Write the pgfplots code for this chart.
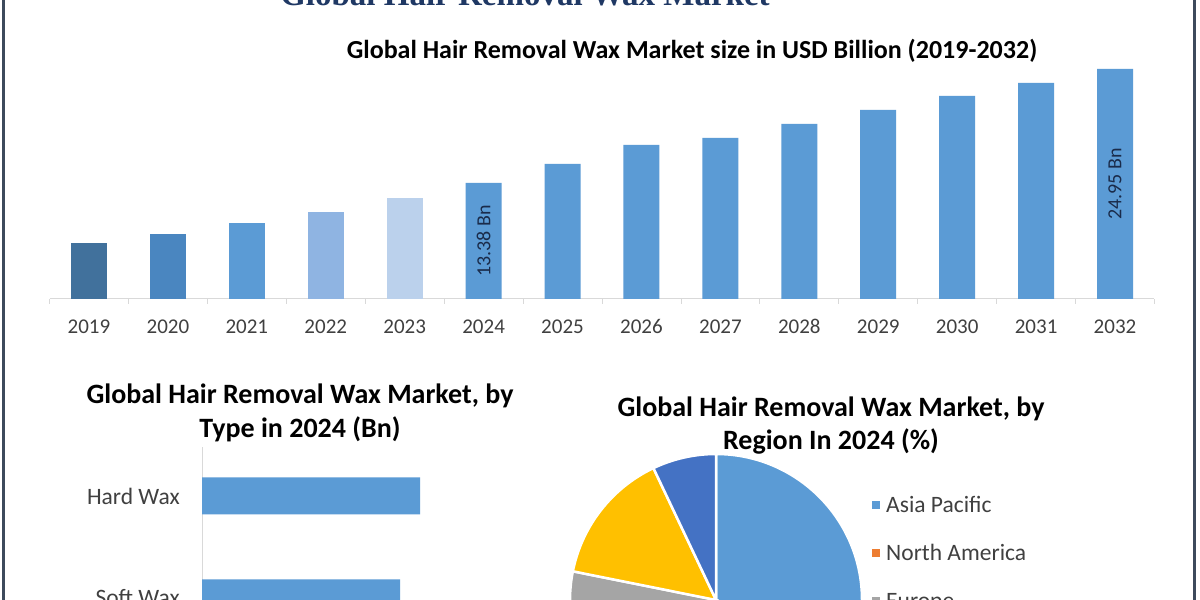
\documentclass[border=0pt]{standalone}
\usepackage{fontspec}
\setmainfont{Carlito}
\newfontfamily\titleserif{Liberation Serif}
\usepackage{pgfplots}
\pgfplotsset{compat=1.18}

\definecolor{cA}{HTML}{41719C}
\definecolor{cB}{HTML}{4A86C0}
\definecolor{cC}{HTML}{5B9BD5}
\definecolor{cD}{HTML}{8FB4E2}
\definecolor{cE}{HTML}{BBD1EC}
\definecolor{axgray}{HTML}{D9D9D9}
\definecolor{tickgray}{HTML}{404040}
\definecolor{frame}{HTML}{3D4A5C}
\definecolor{navy}{HTML}{1F3864}
\definecolor{labnavy}{HTML}{1A2B4A}
\definecolor{pAP}{HTML}{5B9BD5}
\definecolor{pNA}{HTML}{ED7D31}
\definecolor{pEU}{HTML}{A5A5A5}
\definecolor{pME}{HTML}{FFC000}
\definecolor{pSA}{HTML}{4472C4}

\begin{document}
\begin{tikzpicture}[x=1pt,y=1pt]
\path[use as bounding box] (0,0) rectangle (1200,600);
\coordinate (mainSW) at (49.5pt,301pt);
\coordinate (typeSW) at (202pt,-59.2pt);
\coordinate (pieC) at (716pt,0pt);
\begin{scope}
\clip (0,0) rectangle (1200,600);
\fill[white] (0,0) rectangle (1200,600);

% cut-off headline
\node[font=\titleserif\bfseries\fontsize{33}{33}\selectfont, text=navy, anchor=base, inner sep=0pt] at (525,594) {Global Hair Removal Wax Market};

% top chart title
\node[font=\bfseries\fontsize{26}{26}\selectfont, anchor=base, inner sep=0pt] at (692,541) {Global Hair Removal Wax Market size in USD Billion (2019-2032)};

% ---------- main bar chart ----------
\begin{axis}[
  at={(mainSW)}, anchor=south west,
  scale only axis, width=1105pt, height=230pt,
  xmin=-0.5, xmax=13.5, ymin=1.606, ymax=24.95,
  ybar, bar width=36pt,
  axis x line*=bottom, axis y line=none,
  x axis line style={-, draw=axgray, line width=1pt},
  xtick={0,...,13},
  xticklabels={2019,2020,2021,2022,2023,2024,2025,2026,2027,2028,2029,2030,2031,2032},
  major tick length=0pt,
  minor xtick={-0.5,0.5,...,13.5},
  minor tick length=5pt, tick align=outside,
  minor tick style={draw=axgray, line width=0.8pt},
  xticklabel style={font=\fontsize{21}{21}\selectfont, text=tickgray, anchor=base, inner sep=0pt, yshift=-35pt},
]
\addplot[draw=none, fill=cA, bar shift=0pt] coordinates {(0,7.24)};
\addplot[draw=none, fill=cB, bar shift=0pt] coordinates {(1,8.25)};
\addplot[draw=none, fill=cC, bar shift=0pt] coordinates {(2,9.28)};
\addplot[draw=none, fill=cD, bar shift=0pt] coordinates {(3,10.42)};
\addplot[draw=none, fill=cE, bar shift=0pt] coordinates {(4,11.85)};
\addplot[draw=none, fill=cC, bar shift=0pt] coordinates {(5,13.38) (6,15.31) (7,17.24) (8,17.95) (9,19.37) (10,20.79) (11,22.21) (12,23.53) (13,24.95)};
\node[rotate=90, font=\fontsize{20}{20}\selectfont, text=labnavy] at (axis cs:5,7.49) {13.38 Bn};
\node[rotate=90, font=\fontsize{20}{20}\selectfont, text=labnavy] at (axis cs:13,13.28) {24.95 Bn};
\end{axis}

% ---------- bottom-left: by type ----------
\node[font=\bfseries\fontsize{28}{28}\selectfont, anchor=base, inner sep=0pt] at (300,196) {Global Hair Removal Wax Market, by};
\node[font=\bfseries\fontsize{28}{28}\selectfont, anchor=base, inner sep=0pt] at (300,162) {Type in 2024 (Bn)};

\begin{axis}[
  at={(typeSW)}, anchor=south west,
  scale only axis, width=400pt, height=212.2pt,
  xmin=0, xmax=10, ymin=-0.6, ymax=1.48,
  xbar, bar width=37pt,
  axis x line=none, axis y line*=left,
  y axis line style={-, draw=axgray, line width=1pt},
  ytick={0,1}, yticklabels={Soft Wax,Hard Wax},
  major tick length=0pt,
  yticklabel style={font=\fontsize{23.5}{23.5}\selectfont, text=tickgray, anchor=east, inner sep=0pt, xshift=-22pt},
]
\addplot[draw=none, fill=cC, bar shift=0pt] coordinates {(5.45,1) (4.95,0)};
\end{axis}

% ---------- bottom-right: by region ----------
\node[font=\bfseries\fontsize{28}{28}\selectfont, anchor=base, inner sep=0pt] at (831,183) {Global Hair Removal Wax Market, by};
\node[font=\bfseries\fontsize{28}{28}\selectfont, anchor=base, inner sep=0pt] at (831,150) {Region In 2024 (\%)};

\begin{axis}[
  at={(pieC)}, anchor=center,
  scale only axis, width=292pt, height=292pt,
  xmin=-1, xmax=1, ymin=-1, ymax=1,
  hide axis, clip=false,
]
% shares (%): Asia Pacific 40, North America 25, Europe 13.15, MEA 14.8, South America 7.05
\fill[pAP, draw=white, line width=2.5pt] (axis cs:0,0) -- ++({90-3.6*0}:146pt) arc[start angle={90-3.6*0}, end angle={90-3.6*40}, radius=146pt] -- cycle;
\fill[pNA, draw=white, line width=2.5pt] (axis cs:0,0) -- ++({90-3.6*40}:146pt) arc[start angle={90-3.6*40}, end angle={90-3.6*65}, radius=146pt] -- cycle;
\fill[pEU, draw=white, line width=2.5pt] (axis cs:0,0) -- ++({90-3.6*65}:146pt) arc[start angle={90-3.6*65}, end angle={90-3.6*78.15}, radius=146pt] -- cycle;
\fill[pME, draw=white, line width=2.5pt] (axis cs:0,0) -- ++({90-3.6*78.15}:146pt) arc[start angle={90-3.6*78.15}, end angle={90-3.6*92.95}, radius=146pt] -- cycle;
\fill[pSA, draw=white, line width=2.5pt] (axis cs:0,0) -- ++({90-3.6*92.95}:146pt) arc[start angle={90-3.6*92.95}, end angle={90-3.6*100}, radius=146pt] -- cycle;
\end{axis}

% legend
\fill[pAP] (872,91) rectangle (880,99);
\node[font=\fontsize{23.5}{23.5}\selectfont, text=tickgray, anchor=base west, inner sep=0pt] at (886,87) {Asia Pacific};
\fill[pNA] (872,43) rectangle (880,51);
\node[font=\fontsize{23.5}{23.5}\selectfont, text=tickgray, anchor=base west, inner sep=0pt] at (886,39) {North America};
\fill[pEU] (872,-5) rectangle (880,3);
\node[font=\fontsize{23.5}{23.5}\selectfont, text=tickgray, anchor=base west, inner sep=0pt] at (886,-9) {Europe};

% frame
\fill[frame] (2,0) rectangle (5,600);
\fill[frame] (1193,0) rectangle (1196,600);
\end{scope}
\end{tikzpicture}
\end{document}
